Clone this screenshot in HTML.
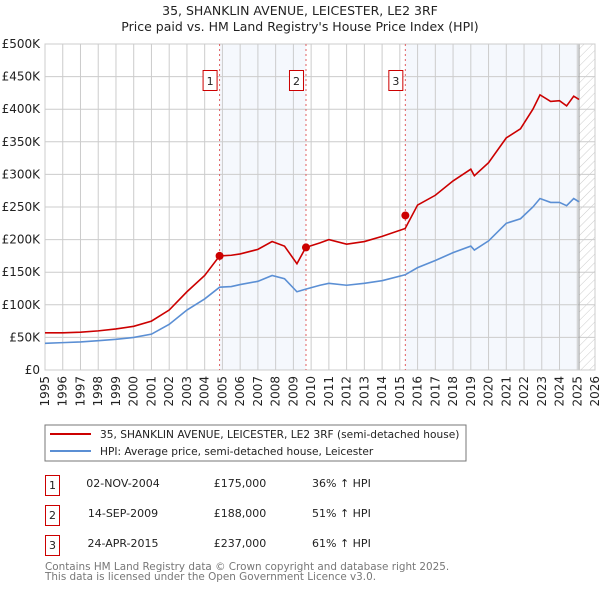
<!DOCTYPE html>
<html><head><meta charset="utf-8"><style>
body{margin:0;background:#fff;font-family:"DejaVu Sans","Liberation Sans",sans-serif;}
svg text{font-family:"DejaVu Sans","Liberation Sans",sans-serif;}
</style></head><body>
<svg id="c" width="600" height="590" xmlns="http://www.w3.org/2000/svg">
<defs><pattern id="hatch" width="6" height="6" patternUnits="userSpaceOnUse" patternTransform="rotate(45)"><line x1="0" y1="0" x2="0" y2="6" stroke="#ccc" stroke-width="1"/></pattern></defs>
<text x="300" y="15" text-anchor="middle" font-size="12.5" fill="#222">35, SHANKLIN AVENUE, LEICESTER, LE2 3RF</text>
<text x="300" y="31" text-anchor="middle" font-size="12.5" fill="#222">Price paid vs. HM Land Registry's House Price Index (HPI)</text>
<g id="plot"></g>
<rect x="45" y="425" width="421" height="36" fill="#fff" stroke="#777"/>
<line x1="50" y1="434" x2="91" y2="434" stroke="#cc0000" stroke-width="2"/>
<text x="100" y="438" font-size="10.6" fill="#222">35, SHANKLIN AVENUE, LEICESTER, LE2 3RF (semi-detached house)</text>
<line x1="50" y1="451" x2="91" y2="451" stroke="#5b8fd4" stroke-width="2"/>
<text x="100" y="455" font-size="10.6" fill="#222">HPI: Average price, semi-detached house, Leicester</text>
<g font-size="11" fill="#222">
<rect x="45.5" y="475.5" width="14" height="20" fill="none" stroke="#cc0000"/><text x="52.5" y="489" text-anchor="middle">1</text>
<text x="123" y="487" text-anchor="middle">02-NOV-2004</text><text x="240" y="487" text-anchor="middle">£175,000</text><text x="312" y="487">36% ↑ HPI</text>
<rect x="45.5" y="505.5" width="14" height="20" fill="none" stroke="#cc0000"/><text x="52.5" y="519" text-anchor="middle">2</text>
<text x="123" y="517" text-anchor="middle">14-SEP-2009</text><text x="240" y="517" text-anchor="middle">£188,000</text><text x="312" y="517">51% ↑ HPI</text>
<rect x="45.5" y="535.5" width="14" height="20" fill="none" stroke="#cc0000"/><text x="52.5" y="549" text-anchor="middle">3</text>
<text x="123" y="547" text-anchor="middle">24-APR-2015</text><text x="240" y="547" text-anchor="middle">£237,000</text><text x="312" y="547">61% ↑ HPI</text>
</g>
<text x="45" y="570" font-size="10.4" fill="#777">Contains HM Land Registry data © Crown copyright and database right 2025.</text>
<text x="45" y="580" font-size="10.4" fill="#777">This data is licensed under the Open Government Licence v3.0.</text>
</svg>
<script>
const hpiYears=[1995,1996,1997,1998,1999,2000,2001,2002,2003,2004,2004.84,2005.5,2006,2007,2007.8,2008.5,2009.2,2009.7,2010.5,2011,2012,2013,2014,2015.3,2016,2017,2018,2019,2019.2,2020,2021,2021.8,2022.5,2022.9,2023.5,2024,2024.4,2024.8,2025.1];
const hpiValues=[41,42,43,45,47,50,55,70,92,109,127,128,131,136,145,140,120,124,130,133,130,133,137,146,157,168,180,190,184,198,225,232,250,263,257,257,252,263,258];
const redValues=[57,57,58,60,63,67,75,92,120,145,175,176,178,185,197,190,163,188,195,200,193,197,205,217,253,268,290,308,298,318,356,370,400,422,412,413,405,420,415];
const sales=[{n:'1',t:2004.84,v:175},{n:'2',t:2009.71,v:188},{n:'3',t:2015.31,v:237}];
const yTicks=[0,50,100,150,200,250,300,350,400,450,500];
const xYears=[];for(let y=1995;y<=2026;y++)xYears.push(y);
const X0=45,X1=595,Y0=370,Y1=44;
const sx=t=>X0+(t-1995)/(2026-1995)*(X1-X0);
const sy=v=>Y0-v/500*(Y0-Y1);
const NS='http://www.w3.org/2000/svg';
const g=document.getElementById('plot');
function mk(tag,attrs,parent){const e=document.createElementNS(NS,tag);for(const k in attrs)e.setAttribute(k,attrs[k]);(parent||g).appendChild(e);return e;}
let e;
e=mk('rect',{x:sx(sales[0].t),y:Y1,width:sx(sales[1].t)-sx(sales[0].t),height:Y0-Y1,fill:'#eef3fc',opacity:0.6});


e=mk('rect',{x:sx(sales[2].t),y:Y1,width:sx(2025.1)-sx(sales[2].t),height:Y0-Y1,fill:'#eef3fc',opacity:0.6});


e=mk('rect',{x:sx(2025.1),y:Y1,width:X1-sx(2025.1),height:Y0-Y1,fill:'url(#hatch)'});


yTicks.forEach(v=>{
 e=mk('line',{x1:X0,x2:X1,y1:sy(v),y2:sy(v),stroke:'#ccc','stroke-width':1});
 
 
 e=mk('text',{x:40,y:sy(v)+4,'text-anchor':'end','font-size':12,fill:'#222'});
 e.textContent=v===0?'£0':'£'+v+'K';
 
 
});
xYears.forEach(yr=>{
 e=mk('line',{x1:sx(yr),x2:sx(yr),y1:Y1,y2:Y0,stroke:'#ccc','stroke-width':1});
 
 
 e=mk('text',{x:0,y:0,'font-size':12,fill:'#222','text-anchor':'end',transform:`translate(${sx(yr)+4},${Y0+6}) rotate(-90)`});
 e.textContent=yr;
 
 
});
e=mk('line',{x1:sx(2025.1),x2:sx(2025.1),y1:Y1,y2:Y0,stroke:'#999','stroke-width':1});


e=mk('rect',{x:X0,y:Y1,width:X1-X0,height:Y0-Y1,fill:'none',stroke:'#ccc'});


sales.forEach(s=>{
 e=mk('line',{x1:sx(s.t),x2:sx(s.t),y1:Y1,y2:Y0,stroke:'#e06060','stroke-width':1,'stroke-dasharray':'2,3'});
 
 
});
e=mk('polyline',{points:hpiYears.map((t,i)=>sx(t)+','+sy(hpiValues[i])).join(' '),fill:'none',stroke:'#5b8fd4','stroke-width':1.6});


e=mk('polyline',{points:hpiYears.map((t,i)=>sx(t)+','+sy(redValues[i])).join(' '),fill:'none',stroke:'#cc0000','stroke-width':1.6});


sales.forEach(s=>{
 e=mk('circle',{cx:sx(s.t),cy:sy(s.v),r:4,fill:'#cc0000'});
 
 
 e=mk('rect',{x:sx(s.t)-16.5,y:70.5,width:14,height:20,fill:'#fff',stroke:'#cc0000'});
 
 
 e=mk('text',{x:sx(s.t)-9.5,y:85,'text-anchor':'middle','font-size':11,fill:'#222'});
 e.textContent=s.n;
 
 
});
</script>
</body></html>
